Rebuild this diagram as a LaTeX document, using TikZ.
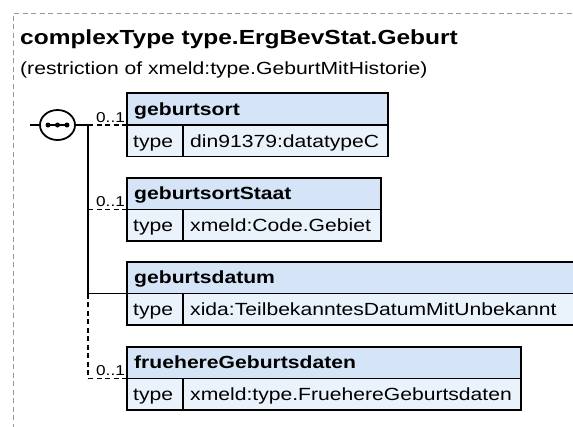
\documentclass[tikz,border=0pt]{standalone}
\usepackage{fontspec}
\setmainfont{Liberation Sans}[FakeStretch=1.2]
\usetikzlibrary{shapes.geometric}
\definecolor{hdrblue}{RGB}{214,228,247}
\definecolor{rowblue}{RGB}{234,242,252}
\definecolor{framegray}{RGB}{153,153,153}
\begin{document}
\begin{tikzpicture}[x=1pt,y=-1pt,
  hdr/.style={draw=black, line width=1.8pt, fill=hdrblue, anchor=north west, minimum height=31.5pt, inner sep=0pt, outer sep=0pt},
  rowcell/.style={draw=black, line width=1.8pt, fill=rowblue, anchor=north west, minimum height=31.5pt, inner sep=0pt, outer sep=0pt},
  hdrtext/.style={anchor=base west, inner sep=0pt, font=\fontsize{17.6}{21}\selectfont\bfseries},
  rowtext/.style={anchor=base west, inner sep=0pt, font=\fontsize{17.6}{21}\selectfont},
  card/.style={anchor=base west, inner sep=0pt, font=\fontsize{14.3}{17}\selectfont},
  conn/.style={draw=black, line width=1.8pt},
  optconn/.style={conn, dash pattern=on 5pt off 3.5pt},
  framestyle/.style={draw=framegray, line width=1pt, dash pattern=on 5pt off 3.5pt}
]
\useasboundingbox (0,0) rectangle (573,426);
\clip (0,0) rectangle (573,426);
% frame
\coordinate (ftr) at (580,13);
\coordinate (ftl) at (13,13);
\coordinate (fbl) at (13,430);
\draw[framestyle] (ftr) -- (ftl) -- (fbl);
% title
\node[anchor=base west, inner sep=0pt, font=\fontsize{20.4}{25}\selectfont\bfseries] (title) at (20,44) {complexType type.ErgBevStat.Geburt};
\node[anchor=base west, inner sep=0pt, font=\fontsize{17.6}{21}\selectfont] (subtitle) at (20,74) {(restriction of xmeld:type.GeburtMitHistorie)};
% box 1
\node[hdr, minimum width=261pt] (h1) at (127,93) {};
\node[rowcell, minimum width=56pt] (t1) at (127,125) {};
\node[rowcell, minimum width=205pt] (v1) at (183,125) {};
\node[hdrtext] (h1l) at (134,115) {geburtsort};
\node[rowtext] (t1l) at (133,147) {type};
\node[rowtext] (v1l) at (190,147) {din91379:datatypeC};
% box 2
\node[hdr, minimum width=254pt] (h2) at (127,178) {};
\node[rowcell, minimum width=56pt] (t2) at (127,209.5) {};
\node[rowcell, minimum width=198pt] (v2) at (183,209.5) {};
\node[hdrtext] (h2l) at (134,199.5) {geburtsortStaat};
\node[rowtext] (t2l) at (133,231.5) {type};
\node[rowtext] (v2l) at (190,231.5) {xmeld:Code.Gebiet};
% box 3
\node[hdr, minimum width=450pt] (h3) at (127,262) {};
\node[rowcell, minimum width=56pt] (t3) at (127,293.5) {};
\node[rowcell, minimum width=394pt] (v3) at (183,293.5) {};
\node[hdrtext] (h3l) at (134,283.5) {geburtsdatum};
\node[rowtext] (t3l) at (133,315.5) {type};
\node[rowtext] (v3l) at (190,315.5) {xida:TeilbekanntesDatumMitUnbekannt};
% box 4
\node[hdr, minimum width=394pt] (h4) at (127,347) {};
\node[rowcell, minimum width=56pt] (t4) at (127,378.5) {};
\node[rowcell, minimum width=338pt] (v4) at (183,378.5) {};
\node[hdrtext] (h4l) at (134,368.5) {fruehereGeburtsdaten};
\node[rowtext] (t4l) at (133,400.5) {type};
\node[rowtext] (v4l) at (190,400.5) {xmeld:type.FruehereGeburtsdaten};
% sequence compositor
\coordinate (in) at (30,125);
\node[ellipse, draw=black, line width=1.8pt, fill=white, minimum width=35pt, minimum height=30pt, inner sep=0pt] (seq) at (57.5,125) {};
\coordinate (d1) at (48,125);
\coordinate (d3) at (67,125);
\draw[line width=1.5pt] (d1) -- (d3);
\fill (d1) circle (2.5pt);
\fill (seq.center) circle (2.5pt);
\fill (d3) circle (2.5pt);
\draw[conn] (in) -- (seq.west);
% junctions
\coordinate (j1) at (88,125);
\coordinate (j2) at (88,209.5);
\coordinate (j3) at (88,293.5);
\coordinate (j4) at (88,378.5);
\draw[conn] (seq.east) -- (j1);
\draw[conn] (j1) -- (j3);
\draw[optconn] (j3) -- (j4);
\draw[optconn] (j1) -- (t1.north west);
\draw[optconn] (j2) -- (t2.north west);
\draw[conn] (j3) -- (t3.north west);
\draw[optconn] (j4) -- (t4.north west);
% cardinalities
\node[card] (c1) at (96,122) {0..1};
\node[card] (c2) at (96,206.5) {0..1};
\node[card] (c4) at (96,375.5) {0..1};
\end{tikzpicture}
\end{document}
